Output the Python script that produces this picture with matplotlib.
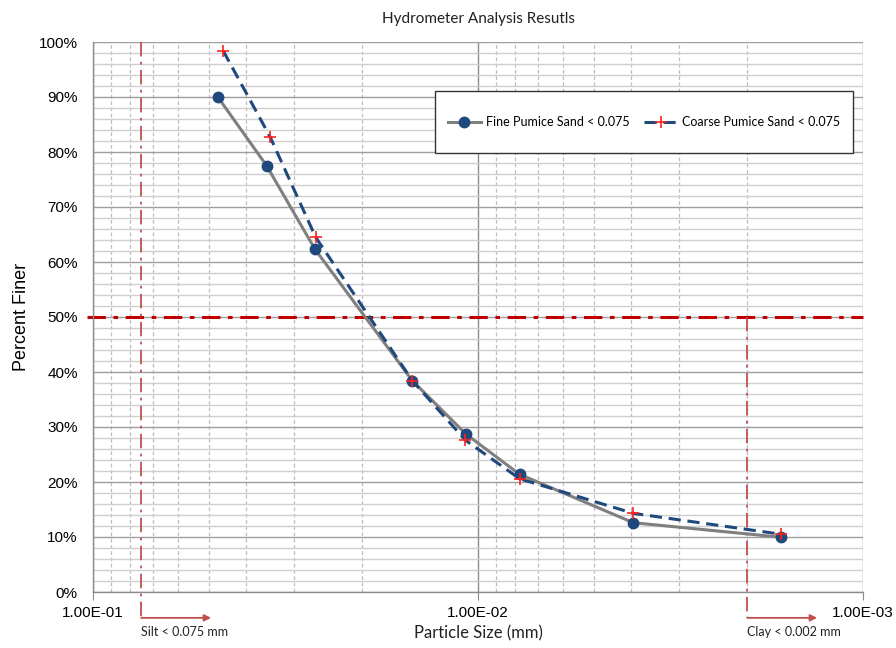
import matplotlib
matplotlib.use("Agg")
import matplotlib.pyplot as plt
from matplotlib.patches import Rectangle
from matplotlib.ticker import FixedLocator, FuncFormatter, NullFormatter, LogLocator

# Hydrometer results (particle diameter in mm, percent finer)
fine_size = [0.0474, 0.0354, 0.0265, 0.0148, 0.01074, 0.0078, 0.00395, 0.00163]
fine_pct = [90.0, 77.5, 62.3, 38.4, 28.7, 21.4, 12.6, 9.95]
coarse_size = [0.0459, 0.0347, 0.0264, 0.0148, 0.01078, 0.0078, 0.00395, 0.00163]
coarse_pct = [98.4, 82.8, 64.5, 38.4, 27.6, 20.6, 14.3, 10.5]
fine_label = "Fine Pumice Sand < 0.075"
coarse_label = "Coarse Pumice Sand < 0.075"

silt_limit = 0.075
clay_limit = 0.002
d50_level = 50

x_ticks = [0.1, 0.01, 0.001]
y_ticks = list(range(0, 101, 10))

navy = "#1F497D"
red_dark = "#C00000"
red_soft = "#C0504D"

fig = plt.figure(figsize=(8.96, 6.48), dpi=100)
ax = fig.add_axes([93 / 896, 56 / 648, 770 / 896, 550 / 648])

ax.set_xscale("log")
ax.set_xlim(0.1, 0.001)
ax.set_ylim(0, 100)

# grid
ax.xaxis.set_major_locator(FixedLocator(x_ticks))
ax.xaxis.set_minor_locator(LogLocator(base=10, subs=range(2, 10)))
ax.xaxis.set_minor_formatter(NullFormatter())
ax.xaxis.set_major_formatter(FuncFormatter(lambda v, p: f"{v:.2E}"))
ax.yaxis.set_major_locator(FixedLocator(y_ticks))
ax.yaxis.set_minor_locator(FixedLocator(list(range(0, 101, 2))))
ax.yaxis.set_major_formatter(FuncFormatter(lambda v, p: f"{v:.0f}%"))

ax.grid(which="major", axis="x", color="#8C8C8C", linewidth=1.0, linestyle="-")
ax.grid(which="minor", axis="x", color="#BEBEBE", linewidth=0.9, linestyle=(0, (3, 2)))
ax.grid(which="minor", axis="y", color="#CFCFCF", linewidth=1.0, linestyle="-")
ax.grid(which="major", axis="y", color="#9E9E9E", linewidth=1.0, linestyle="-")
ax.set_axisbelow(True)

for s in ("top", "right"):
    ax.spines[s].set_visible(False)
for s in ("left", "bottom"):
    ax.spines[s].set_color("#8C8C8C")
    ax.spines[s].set_linewidth(1.0)

ax.tick_params(axis="x", which="major", length=6, color="#8C8C8C", pad=4,
               labelsize=11, labelcolor="#000000")
ax.tick_params(axis="x", which="minor", length=0)
ax.tick_params(axis="y", which="major", length=0, pad=11, labelsize=11)
ax.tick_params(axis="y", which="minor", length=0)
for lbl in ax.get_xticklabels() + ax.get_yticklabels():
    lbl.set_fontfamily("Liberation Sans")

# reference lines
ax.axhline(d50_level, xmin=-0.008, xmax=1.0, color=red_dark, linewidth=2.2,
           linestyle=(0, (6, 2.5, 1.5, 2.5)), clip_on=False, zorder=2)
trans = ax.get_xaxis_transform()
ax.plot([silt_limit, silt_limit], [1.0, -0.05], transform=trans, color=red_soft,
        linewidth=1.3, linestyle=(0, (8, 3, 1.5, 3)), clip_on=False, zorder=2)
ax.plot([clay_limit, clay_limit], [d50_level / 100, -0.045], transform=trans, color=red_soft,
        linewidth=1.3, linestyle=(0, (8, 3, 1.5, 3)), clip_on=False, zorder=2)

arrow_span = 10 ** (70 / 385)
for lim in (silt_limit, clay_limit):
    ax.annotate("", xy=(lim / arrow_span, -0.047), xytext=(lim, -0.047),
                xycoords=trans, textcoords=trans,
                arrowprops=dict(arrowstyle="-|>", color=red_soft, lw=1.3,
                                mutation_scale=10, shrinkA=0, shrinkB=0),
                annotation_clip=False)
ax.text(silt_limit, -0.073, "Silt < 0.075 mm", transform=trans, fontsize=9,
        fontfamily="Lato", ha="left", va="center", color="#222222")
ax.text(clay_limit, -0.073, "Clay < 0.002 mm", transform=trans, fontsize=9,
        fontfamily="Lato", ha="left", va="center", color="#222222")

# data series
ax.plot(fine_size, fine_pct, color="#7F7F7F", linewidth=2.2, marker="o",
        markersize=7.5, markerfacecolor=navy, markeredgecolor=navy,
        label=fine_label, zorder=4)
ax.plot(coarse_size, coarse_pct, color=navy, linewidth=2.2, linestyle=(0, (4, 2.2)),
        marker="+", markersize=9, markeredgecolor="#FF2020", markeredgewidth=1.2,
        label=coarse_label, zorder=5)

# legend box with centred entries
box_x0, box_y0 = (435 - 93) / 770, (592 - 153) / 550
box_w, box_h = (853 - 435) / 770, 62 / 550
ax.add_patch(Rectangle((box_x0, box_y0), box_w, box_h, transform=ax.transAxes,
                       facecolor="white", edgecolor="#333333", linewidth=1.0,
                       zorder=6, clip_on=False))
leg = ax.legend(loc="center", bbox_to_anchor=(box_x0 + box_w / 2, box_y0 + box_h / 2),
                ncol=2, prop={"family": "Lato", "size": 9}, frameon=False,
                handlelength=2.7, handletextpad=0.4, columnspacing=1.1,
                borderaxespad=0.0, borderpad=0.0)
leg.set_zorder(7)

ax.set_title("Hydrometer Analysis Resutls", fontsize=11, fontfamily="Lato", pad=14,
             color="#222222")
ax.set_xlabel("Particle Size (mm)", fontsize=12, fontfamily="Lato", labelpad=4,
              color="#222222")
ax.set_ylabel("Percent Finer", fontsize=13, fontfamily="Liberation Sans", labelpad=6.5)

fig.savefig("out.png", dpi=100)
